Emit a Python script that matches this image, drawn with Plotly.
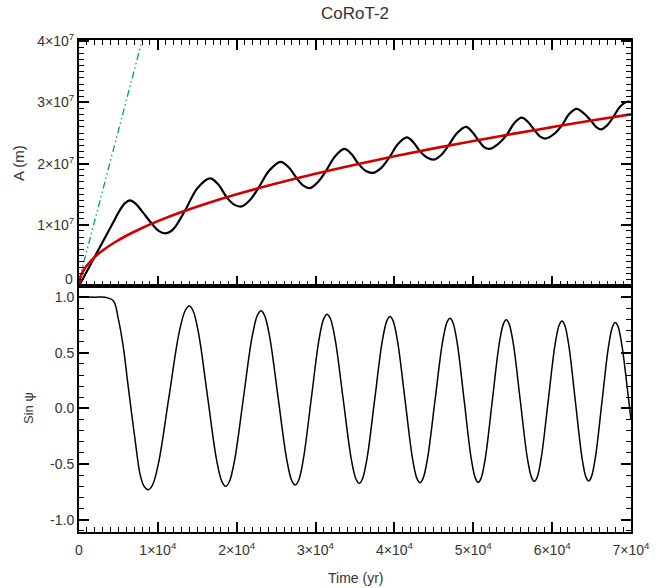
import plotly.graph_objects as go

# ---------------- data ----------------
# Top panel: semi-major axis A (in units of 1e7 m) vs time (yr)
t_black = [0, 1500, 3000, 4500, 5000, 5800, 6470, 7150, 8000, 9220, 10100, 10950,
           11600, 12170, 13440, 15025, 16610, 17670, 18730, 19680, 20630, 21685,
           22740, 24155, 25570, 26585, 27600, 28445, 29290, 30305, 31320, 32480,
           33640, 34530, 35420, 36370, 37320, 38335, 39350, 40450, 41550, 42395,
           43240, 44130, 45020, 45925, 46830, 47950, 49070, 49850, 50630, 51330,
           52030, 53135, 54240, 55190, 56140, 56940, 57740, 58480, 59220, 60215,
           61210, 62160, 63110, 64020, 64930, 65560, 66190, 66970, 67750, 68600,
           69500, 70000]
A_black = [0.00, 0.36, 0.72, 1.08, 1.20, 1.35, 1.40, 1.35, 1.22, 1.02, 0.90, 0.86,
           0.89, 0.96, 1.23, 1.60, 1.76, 1.66, 1.45, 1.33, 1.30, 1.405,
           1.60, 1.89, 2.03, 1.94, 1.76, 1.64, 1.60, 1.70, 1.88, 2.12,
           2.24, 2.16, 2.00, 1.88, 1.85, 1.93, 2.10, 2.32, 2.43, 2.35,
           2.20, 2.10, 2.065, 2.14, 2.29, 2.50, 2.60, 2.52, 2.385, 2.275,
           2.24, 2.32, 2.47, 2.66, 2.75, 2.68, 2.55, 2.44, 2.41, 2.48,
           2.62, 2.81, 2.894, 2.82, 2.70, 2.60, 2.56, 2.625, 2.76, 2.93,
           3.01, 3.005]

t_red = [0, 250, 500, 1000, 2000, 3000, 4500, 6000, 8000, 10000, 13000, 16000,
         20000, 25000, 30000, 35000, 40000, 45000, 50000, 55000, 60000, 65000, 70000]
A_red = [0.00, 0.168, 0.237, 0.335, 0.474, 0.581, 0.711, 0.821, 0.948, 1.06, 1.209,
         1.341, 1.499, 1.676, 1.836, 1.983, 2.12, 2.249, 2.37, 2.486, 2.596, 2.703, 2.805]

t_green = [0, 8300]
A_green = [0.09, 4.16]

# Bottom panel: sin(psi) vs time (yr)
t_sin = [0, 2000, 3300, 4350, 5000, 5620, 6150, 6680, 7200, 7740, 8250, 8790,
         9310, 10090, 11390, 12690, 13470, 13990,
         14451, 15143, 16295, 17448, 18139, 18600,
         19048, 19720, 20840, 21960, 22632, 23080,
         23515, 24168, 25255, 26343, 26995, 27430,
         27832, 28435, 29440, 30445, 31048, 31450,
         31859, 32473, 33495, 34518, 35131, 35540,
         35930, 36515, 37490, 38465, 39050, 39440,
         39820, 40390, 41340, 42290, 42860, 43240,
         43621, 44193, 45145, 46098, 46669, 47050,
         47408, 47945, 48840, 49735, 50272, 50630,
         50985, 51518, 52405, 53293, 53825, 54180,
         54536, 55070, 55960, 56850, 57384, 57740,
         58091, 58618, 59495, 60373, 60899, 61250,
         61588, 62095, 62940, 63785, 64292, 64630,
         64968, 65475, 66320, 67165, 67672, 68010,
         68348, 68855, 69500, 70000]
s_sin = [1.0, 1.0, 0.998, 0.967, 0.80, 0.55, 0.25, -0.05, -0.33, -0.59, -0.70, -0.73,
         -0.690, -0.488, 0.095, 0.679, 0.880, 0.92,
         0.880, 0.683, 0.11, -0.463, -0.660, -0.70,
         -0.661, -0.469, 0.089, 0.647, 0.838, 0.877,
         0.839, 0.648, 0.095, -0.459, -0.650, -0.688,
         -0.650, -0.463, 0.080, 0.623, 0.809, 0.847,
         0.810, 0.625, 0.087, -0.451, -0.636, -0.673,
         -0.636, -0.454, 0.077, 0.607, 0.789, 0.826,
         0.789, 0.607, 0.080, -0.449, -0.630, -0.667,
         -0.631, -0.451, 0.072, 0.595, 0.775, 0.811,
         0.775, 0.595, 0.074, -0.449, -0.628, -0.664,
         -0.628, -0.450, 0.066, 0.583, 0.760, 0.796,
         0.760, 0.584, 0.071, -0.443, -0.619, -0.655,
         -0.620, -0.444, 0.065, 0.575, 0.750, 0.785,
         0.750, 0.575, 0.067, -0.442, -0.617, -0.652,
         -0.617, -0.444, 0.060, 0.564, 0.737, 0.772,
         0.737, 0.564, 0.20, -0.10]

x_tickvals = [0, 10000, 20000, 30000, 40000, 50000, 60000, 70000]
x_ticktext = ["0"] + [f"{k}×10<sup>4</sup>" for k in range(1, 8)]
y1_tickvals = [0, 1e7, 2e7, 3e7, 4e7]
y1_ticktext = [""] + [f"{k}×10<sup>7</sup>" for k in range(1, 5)]
y1_zero_label = "0"
y2_tickvals = [-1.0, -0.5, 0.0, 0.5, 1.0]
y2_ticktext = ["-1.0", "-0.5", "0.0", "0.5", "1.0"]

# ---------------- figure ----------------
FONT = "Liberation Sans, Arial, sans-serif"
TXT = "#333333"
GREEN = "#009e73"
RED = "#d00000"

fig = go.Figure()
fig.add_trace(go.Scatter(x=t_green, y=[v * 1e7 for v in A_green], xaxis="x", yaxis="y",
                         mode="lines", line=dict(color=GREEN, width=1.3,
                                                 dash="7px,3px,1.5px,3px,1.5px,3px"),
                         hoverinfo="skip"))
fig.add_trace(go.Scatter(x=t_black, y=[v * 1e7 for v in A_black], xaxis="x", yaxis="y",
                         mode="lines", line=dict(color="black", width=2.2, shape="spline",
                                                 smoothing=1.0)))
fig.add_trace(go.Scatter(x=t_red, y=[v * 1e7 for v in A_red], xaxis="x", yaxis="y",
                         mode="lines", line=dict(color=RED, width=2.6, shape="spline",
                                                 smoothing=1.0)))
fig.add_trace(go.Scatter(x=t_sin, y=s_sin, xaxis="x2", yaxis="y2",
                         mode="lines", line=dict(color="black", width=1.5, shape="spline",
                                                 smoothing=1.0)))

common = dict(showline=True, linecolor="black", linewidth=2, ticks="inside",
              tickcolor="black", tickwidth=1.5, ticklen=10, showgrid=False,
              zeroline=False, tickfont=dict(family=FONT, size=14, color=TXT))

fig.update_layout(
    width=664, height=588,
    margin=dict(l=79, r=33, t=40, b=56),
    paper_bgcolor="white", plot_bgcolor="white",
    showlegend=False,
    font=dict(family=FONT, color=TXT),
    title=dict(text="CoRoT-2", x=0.5347, xanchor="center", y=0.977, yanchor="middle",
               yref="container", font=dict(family=FONT, size=17, color=TXT)),
    xaxis=dict(domain=[0, 1], anchor="y", range=[0, 70000], mirror="allticks",
               tickmode="linear", tick0=0, dtick=10000, showticklabels=False,
               minor=dict(ticks="inside", tickmode="linear", tick0=0, dtick=1000,
                          ticklen=5, tickwidth=1, tickcolor="black"),
               **common),
    yaxis=dict(domain=[0.5, 1], anchor="x", range=[0, 4.02e7], mirror="allticks",
               tickmode="array", tickvals=y1_tickvals, ticktext=y1_ticktext,
               minor=dict(ticks="inside", tickmode="linear", tick0=0, dtick=1e6,
                          ticklen=5, tickwidth=1, tickcolor="black"),
               **common),
    xaxis2=dict(domain=[0, 1], anchor="y2", range=[0, 70000], mirror=True,
                tickmode="array", tickvals=x_tickvals, ticktext=x_ticktext,
                ticklabelstandoff=4,
                minor=dict(ticks="inside", tickmode="linear", tick0=0, dtick=1000,
                           ticklen=5, tickwidth=1, tickcolor="black"),
                **common),
    yaxis2=dict(domain=[0, 0.5], anchor="x2", range=[-1.11, 1.1], mirror="allticks",
                tickmode="array", tickvals=y2_tickvals, ticktext=y2_ticktext,
                minor=dict(ticks="inside", tickmode="linear", tick0=0, dtick=0.1,
                           ticklen=5, tickwidth=1, tickcolor="black"),
                **common),
    annotations=[
        dict(text=y1_zero_label, xref="paper", yref="y", x=0, y=y1_tickvals[0],
             xanchor="right", yanchor="middle", xshift=-4, yshift=7, showarrow=False,
             font=dict(family=FONT, size=14, color=TXT)),
        dict(text="A (m)", xref="paper", yref="paper", x=-0.1105, y=0.75,
             xanchor="center", yanchor="middle", textangle=-90, showarrow=False,
             font=dict(family=FONT, size=15, color=TXT)),
        dict(text="Sin ψ", xref="paper", yref="paper", x=-0.0924, y=0.252,
             xanchor="center", yanchor="middle", textangle=-90, showarrow=False,
             font=dict(family=FONT, size=13, color=TXT)),
        dict(text="Time (yr)", xref="paper", yref="paper", x=0.5, y=-0.0935,
             xanchor="center", yanchor="middle", showarrow=False,
             font=dict(family=FONT, size=14, color=TXT)),
    ],
)

fig.write_html("out.html")
